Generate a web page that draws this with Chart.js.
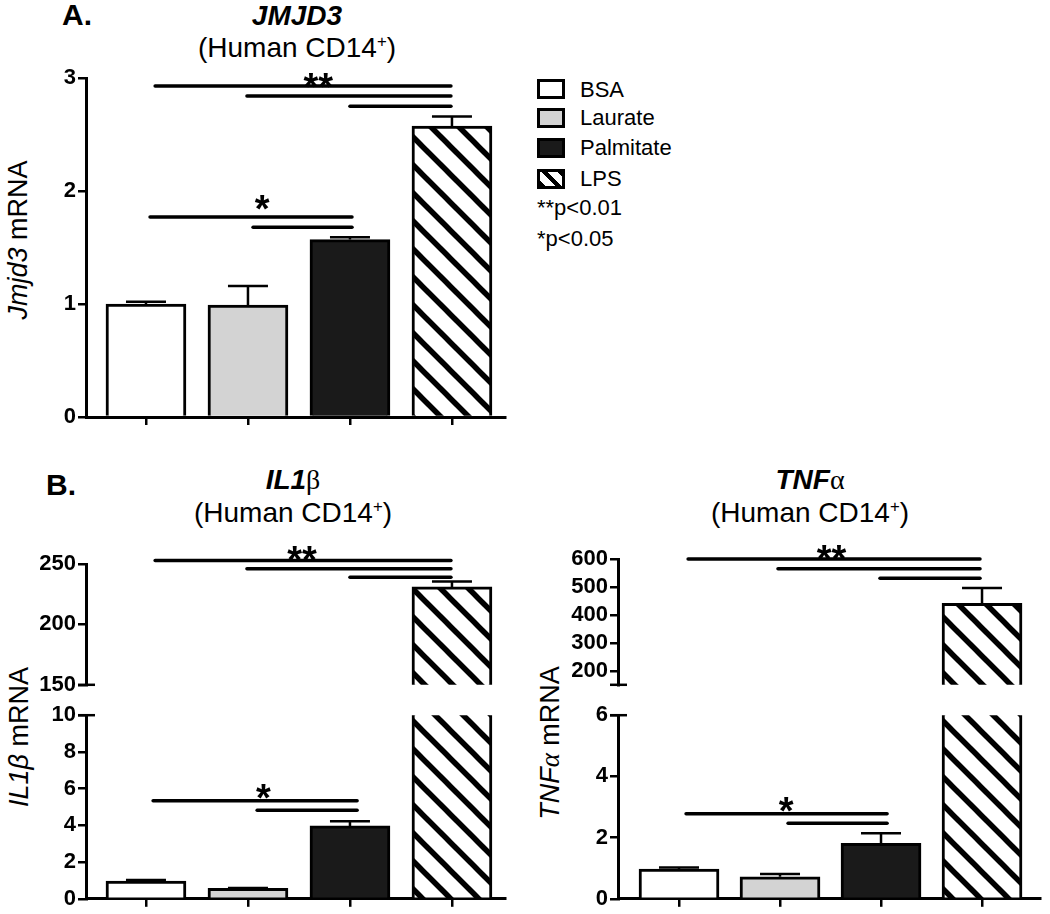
<!DOCTYPE html>
<html>
<head>
<meta charset="utf-8">
<script src="https://cdn.jsdelivr.net/npm/chart.js@4.4.0/dist/chart.umd.min.js"></script>
<style>
body{margin:0;background:#fff;font-family:"Liberation Sans",Arial,sans-serif;color:#000}
#wrap{position:relative;width:1050px;height:914px;overflow:hidden;background:#fff}
canvas{position:absolute}
.t{position:absolute;transform:translate(-50%,-50%);white-space:nowrap;line-height:1}
.yt{position:absolute;transform:translate(-50%,-50%) rotate(-90deg);white-space:nowrap;line-height:1;font-size:27px}
.sym{font-family:"Liberation Serif",serif}
sup{font-size:0.6em;line-height:0}
.sw{position:absolute;left:537px;width:22px;height:14px;border:3px solid #000}
.lt{position:absolute;left:580px;font-size:22px;line-height:1;transform:translateY(-50%)}
</style>
</head>
<body>
<div id="wrap">
  <div class="t" style="left:77px;top:15px;font-size:30px;font-weight:bold">A.</div>
  <div class="t" style="left:297px;top:16px;font-size:28px;font-weight:bold;font-style:italic">JMJD3</div>
  <div class="t" style="left:297px;top:48px;font-size:28px">(Human CD14<sup>+</sup>)</div>
  <div class="yt" style="left:18px;top:240px"><i>Jmjd3</i> mRNA</div>

  <div class="t" style="left:61px;top:485px;font-size:30px;font-weight:bold">B.</div>
  <div class="t" style="left:293px;top:480px;font-size:28px"><b><i>IL1</i></b><span class="sym">β</span></div>
  <div class="t" style="left:293px;top:513px;font-size:28px">(Human CD14<sup>+</sup>)</div>
  <div class="yt" style="left:19px;top:737px"><i>IL1β</i> mRNA</div>

  <div class="t" style="left:810px;top:480px;font-size:28px"><b><i>TNF</i></b><span class="sym">α</span></div>
  <div class="t" style="left:810px;top:513px;font-size:28px">(Human CD14<sup>+</sup>)</div>
  <div class="yt" style="left:550px;top:743px"><i>TNF</i><i class="sym">α</i> mRNA</div>

  <div class="sw" style="top:79px;background:#fff"></div>
  <div class="sw" style="top:108px;background:#d3d3d3"></div>
  <div class="sw" style="top:138px;background:#1a1a1a"></div>
  <div class="sw" style="top:169px;background:repeating-linear-gradient(45deg,#000 0 4px,#fff 4px 11px)"></div>
  <div class="lt" style="top:90px">BSA</div>
  <div class="lt" style="top:118px">Laurate</div>
  <div class="lt" style="top:148px">Palmitate</div>
  <div class="lt" style="top:179px">LPS</div>
  <div class="lt" style="top:208px;left:537px">**p&lt;0.01</div>
  <div class="lt" style="top:239px;left:537px">*p&lt;0.05</div>

  <canvas id="cA" width="520" height="380" style="left:0;top:60px"></canvas>
  <canvas id="cIlHigh" width="520" height="160" style="left:0;top:540px"></canvas>
  <canvas id="cIlLow" width="520" height="214" style="left:0;top:700px"></canvas>
  <canvas id="cTnfHigh" width="520" height="160" style="left:530px;top:540px"></canvas>
  <canvas id="cTnfLow" width="520" height="214" style="left:530px;top:700px"></canvas>
</div>
<script>
const categories = ['BSA', 'Laurate', 'Palmitate', 'LPS'];
const barColors = ['#ffffff', '#d3d3d3', '#1a1a1a', null]; // null = hatched

const jmjd3Mean = [1.00, 0.99, 1.57, 2.575];
const jmjd3Sem = [0.02, 0.17, 0.02, 0.085];
const jmjd3Ticks = [0, 1, 2, 3];

const il1bMean = [0.96, 0.57, 3.97, 231];
const il1bSem = [0.07, 0.02, 0.25, 4.5];
const il1bLowTicks = [0, 2, 4, 6, 8, 10];
const il1bHighTicks = [150, 200, 250];

const tnfMean = [0.97, 0.72, 1.81, 441];
const tnfSem = [0.05, 0.09, 0.33, 55];
const tnfLowTicks = [0, 2, 4, 6];
const tnfHighTicks = [200, 300, 400, 500, 600];

// significance lines: [from category, to category, height]
const jmjd3Sig = [[0.09, 2.99, 2.93], [0.99, 2.99, 2.84], [2.0, 2.99, 2.75], [0.04, 2.02, 1.77], [1.05, 2.02, 1.68]];
const jmjd3Stars = [['**', 1.69, 2.99], ['*', 1.14, 1.91]];
const il1bSigHigh = [[0.09, 2.99, 253], [0.99, 2.99, 246], [2.0, 2.99, 239]];
const il1bStarsHigh = [['**', 1.53, 260]];
const il1bSigLow = [[0.07, 2.07, 5.34], [1.09, 2.07, 4.82]];
const il1bStarsLow = [['*', 1.15, 5.9]];
const tnfSigHigh = [[0.09, 2.98, 600], [0.98, 2.98, 565], [1.99, 2.98, 531]];
const tnfStarsHigh = [['**', 1.51, 627]];
const tnfSigLow = [[0.07, 2.06, 2.78], [1.08, 2.06, 2.47]];
const tnfStarsLow = [['*', 1.06, 3.12]];

const font = '"Liberation Sans", Arial, sans-serif';

function hatchPattern(){
    const c = document.createElement('canvas');
    c.width = 28; c.height = 28;
    const g = c.getContext('2d');
    g.fillStyle = '#fff';
    g.fillRect(0, 0, 28, 28);
    g.strokeStyle = '#000';
    g.lineWidth = 5.5;
    for (let k = -1; k <= 1; k++) {
        g.beginPath();
        g.moveTo(k * 28 - 3, -3);
        g.lineTo(k * 28 + 31, 31);
        g.stroke();
    }
    return g.createPattern(c, 'repeat');
}

// error bars, significance lines, stars and axis break marks
function extras(cfg){
    return {
        id: 'extras',
        afterDatasetsDraw(chart){
            const ctx = chart.ctx, x = chart.scales.x, y = chart.scales.y, a = chart.chartArea;
            ctx.save();
            ctx.strokeStyle = '#000';
            ctx.fillStyle = '#000';
            ctx.lineWidth = 2.5;
            cfg.mean.forEach((m, i) => {
                if (m < cfg.min || m > cfg.max) return;
                const px = x.getPixelForValue(i);
                const top = y.getPixelForValue(m + cfg.sem[i]);
                ctx.beginPath();
                ctx.moveTo(px, y.getPixelForValue(m));
                ctx.lineTo(px, top);
                ctx.moveTo(px - 20, top);
                ctx.lineTo(px + 20, top);
                ctx.stroke();
            });
            if (cfg.brk) {
                const by = cfg.brk === 'top' ? a.top : a.bottom;
                ctx.beginPath();
                ctx.moveTo(a.left - 8, by);
                ctx.lineTo(a.left + 9, by);
                ctx.stroke();
            }
            ctx.lineWidth = 3.5;
            ctx.lineCap = 'round';
            cfg.sig.forEach(s => {
                const py = y.getPixelForValue(s[2]);
                ctx.beginPath();
                ctx.moveTo(x.getPixelForValue(s[0]), py);
                ctx.lineTo(x.getPixelForValue(s[1]), py);
                ctx.stroke();
            });
            ctx.font = 'bold 38px ' + font;
            ctx.textAlign = 'center';
            cfg.stars.forEach(s => {
                ctx.fillText(s[0], x.getPixelForValue(s[1]), y.getPixelForValue(s[2]) + 21);
            });
            ctx.restore();
        }
    };
}

function makeChart(id, cfg){
    const hatch = hatchPattern();
    return new Chart(document.getElementById(id), {
        type: 'bar',
        data: {
            datasets: [{
                data: cfg.mean.map((v, i) => ({x: i, y: v >= cfg.min ? v : null})),
                backgroundColor: barColors.map(c => c || hatch),
                borderColor: '#000',
                borderWidth: 3,
                borderSkipped: 'start',
                barThickness: 80,
                clip: 0
            }]
        },
        options: {
            responsive: false,
            animation: false,
            devicePixelRatio: 1,
            layout: {padding: cfg.pad},
            plugins: {
                legend: {display: false},
                tooltip: {enabled: false}
            },
            scales: {
                x: {
                    type: 'linear',
                    display: cfg.showX,
                    offset: false,
                    min: cfg.xMin,
                    max: cfg.xMax,
                    afterBuildTicks: s => { s.ticks = categories.map((c, i) => ({value: i})); },
                    afterFit: s => { s.height = cfg.xHeight; },
                    ticks: {display: false},
                    grid: {offset: false, drawOnChartArea: false, tickLength: 8, color: '#000', lineWidth: 2.5},
                    border: {color: '#000', width: 3}
                },
                y: {
                    min: cfg.min,
                    max: cfg.max,
                    afterBuildTicks: s => { s.ticks = cfg.ticks.map(v => ({value: v})); },
                    afterFit: s => { s.width = cfg.yWidth; },
                    ticks: {color: '#000', padding: 2, font: {family: font, size: 22, weight: 'bold'}},
                    grid: {drawOnChartArea: false, tickLength: 8, color: '#000', lineWidth: 2.5},
                    border: {color: '#000', width: 3}
                }
            }
        },
        plugins: [extras(cfg)]
    });
}

makeChart('cA', {
    mean: jmjd3Mean, sem: jmjd3Sem, min: 0, max: 3, ticks: jmjd3Ticks,
    sig: jmjd3Sig, stars: jmjd3Stars,
    showX: true, xMin: -0.588, xMax: 3.52, xHeight: 23, yWidth: 86,
    pad: {top: 18, right: 15, bottom: 0, left: 0}
});
makeChart('cIlHigh', {
    mean: il1bMean, sem: il1bSem, min: 150, max: 250, ticks: il1bHighTicks,
    sig: il1bSigHigh, stars: il1bStarsHigh, brk: 'bottom',
    showX: false, xMin: -0.588, xMax: 3.52, xHeight: 0, yWidth: 86,
    pad: {top: 24, right: 15, bottom: 7, left: 0}
});
makeChart('cIlLow', {
    mean: il1bMean, sem: il1bSem, min: 0, max: 10, ticks: il1bLowTicks,
    sig: il1bSigLow, stars: il1bStarsLow, brk: 'top',
    showX: true, xMin: -0.588, xMax: 3.52, xHeight: 8, yWidth: 86,
    pad: {top: 13, right: 15, bottom: 0, left: 0}
});
makeChart('cTnfHigh', {
    mean: tnfMean, sem: tnfSem, min: 150, max: 600, ticks: tnfHighTicks,
    sig: tnfSigHigh, stars: tnfStarsHigh, brk: 'bottom',
    showX: false, xMin: -0.604, xMax: 3.574, xHeight: 0, yWidth: 88,
    pad: {top: 19, right: 10, bottom: 10, left: 0}
});
makeChart('cTnfLow', {
    mean: tnfMean, sem: tnfSem, min: 0, max: 6, ticks: tnfLowTicks,
    sig: tnfSigLow, stars: tnfStarsLow, brk: 'top',
    showX: true, xMin: -0.604, xMax: 3.574, xHeight: 12, yWidth: 88,
    pad: {top: 10, right: 10, bottom: 0, left: 0}
});
</script>
</body>
</html>
